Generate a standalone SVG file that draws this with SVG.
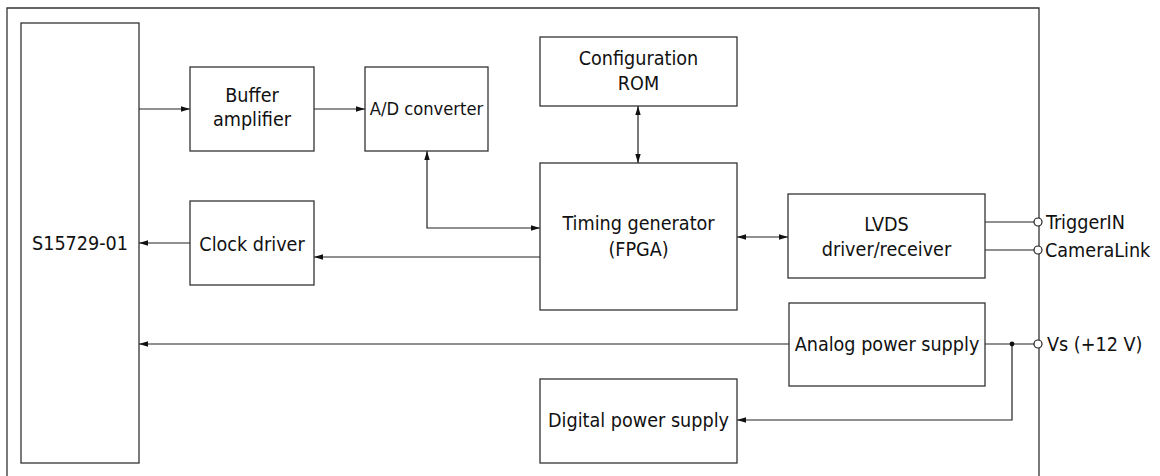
<svg xmlns="http://www.w3.org/2000/svg" width="1160" height="476" viewBox="0 0 1160 476">
<style>
.box{fill:#fff;stroke:#333;stroke-width:1.3}
.frame{fill:none;stroke:#333;stroke-width:1.3}
.ln{fill:none;stroke:#222;stroke-width:1.2}
text{font-family:"DejaVu Sans Condensed","DejaVu Sans",sans-serif;font-size:19.6px;fill:#111;text-anchor:middle}
.lab{text-anchor:start}
.term{fill:#fff;stroke:#222;stroke-width:1.2}
</style>
<defs>
<marker id="ah" viewBox="0 0 10 6" refX="10" refY="3" markerWidth="9" markerHeight="5.4" markerUnits="userSpaceOnUse" orient="auto-start-reverse">
<path d="M0,0 L10,3 L0,6 Z" fill="#111"/>
</marker>
</defs>
<rect width="1160" height="476" fill="#fff"/>
<path class="frame" d="M7,477 V8 H1039 V477"/>
<g id="connectors">
<line class="ln" x1="139" y1="109" x2="190" y2="109" marker-end="url(#ah)"/>
<line class="ln" x1="314" y1="109" x2="365" y2="109" marker-end="url(#ah)"/>
<line class="ln" x1="638" y1="106" x2="638" y2="163" marker-start="url(#ah)" marker-end="url(#ah)"/>
<path class="ln" d="M427,151 V228 H540" marker-start="url(#ah)" marker-end="url(#ah)"/>
<line class="ln" x1="540" y1="257" x2="314" y2="257" marker-end="url(#ah)"/>
<line class="ln" x1="190" y1="243" x2="139" y2="243" marker-end="url(#ah)"/>
<line class="ln" x1="737" y1="237" x2="788" y2="237" marker-start="url(#ah)" marker-end="url(#ah)"/>
<line class="ln" x1="985" y1="222" x2="1035" y2="222"/>
<line class="ln" x1="985" y1="250" x2="1035" y2="250"/>
<line class="ln" x1="789" y1="344" x2="139" y2="344" marker-end="url(#ah)"/>
<line class="ln" x1="985" y1="344" x2="1035" y2="344"/>
<path class="ln" d="M1012,344 V420 H737" marker-end="url(#ah)"/>
<circle cx="1012" cy="344" r="2.4" fill="#111"/>
<circle class="term" cx="1038" cy="222" r="4"/>
<circle class="term" cx="1038" cy="250" r="4"/>
<circle class="term" cx="1038" cy="344" r="4"/>
</g>
<g id="s15729">
<rect class="box" x="21" y="23" width="118" height="440"/>
<text x="80" y="250">S15729-01</text>
</g>
<g id="buffer">
<rect class="box" x="190" y="67" width="124" height="84"/>
<text x="252" y="102">Buffer</text>
<text x="252" y="126">amplifier</text>
</g>
<g id="adc">
<rect class="box" x="365" y="67" width="123" height="84"/>
<text x="426.5" y="115" style="font-size:18.2px">A/D converter</text>
</g>
<g id="rom">
<rect class="box" x="540" y="37" width="197" height="69"/>
<text x="638.5" y="65">Configuration</text>
<text x="638.5" y="90">ROM</text>
</g>
<g id="fpga">
<rect class="box" x="540" y="163" width="197" height="147"/>
<text x="638.5" y="230">Timing generator</text>
<text x="638.5" y="256">(FPGA)</text>
</g>
<g id="clock">
<rect class="box" x="190" y="201" width="124" height="84"/>
<text x="252" y="251">Clock driver</text>
</g>
<g id="lvds">
<rect class="box" x="788" y="194" width="197" height="84"/>
<text x="886.5" y="231">LVDS</text>
<text x="886.5" y="256">driver/receiver</text>
</g>
<g id="analog">
<rect class="box" x="789" y="303" width="196" height="83"/>
<text x="887" y="351">Analog power supply</text>
</g>
<g id="digital">
<rect class="box" x="540" y="379" width="197" height="84"/>
<text x="638.5" y="427">Digital power supply</text>
</g>
<g id="terminals">
<text class="lab" x="1046" y="229">TriggerIN</text>
<text class="lab" x="1045" y="257">CameraLink</text>
<text class="lab" x="1047" y="351">Vs (+12 V)</text>
</g>
</svg>
